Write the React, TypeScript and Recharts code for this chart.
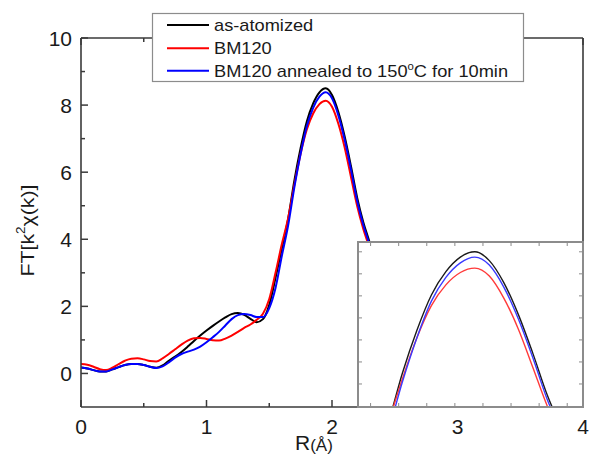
import React from 'react';
import { LineChart, Line, XAxis, YAxis } from 'recharts';

const FONT = '"Liberation Sans", Arial, Helvetica, sans-serif';
const AXIS = '#3a3a3a';

// R (Å)
const rValues = [
  0, 0.05, 0.1, 0.15, 0.2, 0.25, 0.3, 0.35, 0.4, 0.45, 0.5, 0.55, 0.6, 0.65, 0.7, 0.75, 0.8, 0.85, 0.9, 0.95,
  1.0, 1.05, 1.1, 1.15, 1.2, 1.25, 1.3, 1.35, 1.4, 1.45, 1.5, 1.55, 1.6, 1.65, 1.7, 1.75, 1.8, 1.85, 1.9, 1.95,
  2.0, 2.05, 2.1, 2.15, 2.2, 2.25, 2.3, 2.35, 2.4, 2.45, 2.5, 2.55, 2.6,
];

const asAtomized = [
  0.18, 0.15, 0.1, 0.06, 0.06, 0.12, 0.19, 0.25, 0.28, 0.28, 0.25, 0.2, 0.17, 0.24, 0.38, 0.5, 0.64, 0.8, 0.97, 1.13,
  1.28, 1.42, 1.55, 1.67, 1.77, 1.8, 1.75, 1.63, 1.53, 1.62, 2.05, 2.85, 3.72, 4.6, 5.75, 6.72, 7.52, 8.05, 8.38, 8.5,
  8.3, 7.8, 7.08, 6.2, 5.25, 4.5, 3.9, 3.15, 2.45, 1.95, 1.6, 1.35, 1.2,
];

const bm120 = [
  0.28, 0.26, 0.2, 0.13, 0.1, 0.17, 0.28, 0.38, 0.44, 0.45, 0.42, 0.37, 0.36, 0.45, 0.58, 0.72, 0.86, 0.98, 1.05, 1.06,
  1.03, 0.99, 0.98, 1.04, 1.13, 1.24, 1.36, 1.46, 1.6, 1.78, 2.22, 3.0, 3.85, 4.62, 5.62, 6.55, 7.28, 7.75, 8.03, 8.13,
  7.95, 7.45, 6.75, 5.88, 5.0, 4.3, 3.72, 2.95, 2.25, 1.78, 1.45, 1.22, 1.05,
];

const bm120Annealed = [
  0.18, 0.15, 0.1, 0.06, 0.06, 0.12, 0.19, 0.25, 0.28, 0.28, 0.25, 0.2, 0.16, 0.21, 0.33, 0.47, 0.58, 0.65, 0.71, 0.8,
  0.93, 1.08, 1.24, 1.43, 1.62, 1.74, 1.77, 1.74, 1.68, 1.68, 1.95, 2.55, 3.5, 4.4, 5.55, 6.55, 7.38, 7.92, 8.25, 8.38,
  8.2, 7.7, 6.98, 6.1, 5.15, 4.42, 3.82, 3.05, 2.35, 1.88, 1.52, 1.28, 1.12,
];

const seriesLabels = ['as-atomized', 'BM120', 'BM120 annealed to 150'];
const seriesColors = ['#000000', '#ff0000', '#0000ff'];

const mainXTicks = [0, 0.5, 1, 1.5, 2, 2.5, 3, 3.5, 4];
const mainYTicks = [0, 1, 2, 3, 4, 5, 6, 7, 8, 9, 10];
const insetXTicks = [1.59, 1.687, 1.784, 1.881, 1.978, 2.075, 2.172, 2.269];
const insetYTicks = [5.5, 6, 6.5, 7, 7.5, 8, 8.5];

const data = rValues.map((r, i) => ({
  r,
  asAtomized: asAtomized[i],
  bm120: bm120[i],
  annealed: bm120Annealed[i],
}));

const isMajor = (v: number) => Math.abs(v - Math.round(v)) < 1e-6;

function BottomTick(props: any) {
  const { x, y, payload } = props;
  const v = payload.value as number;
  const major = isMajor(v);
  return (
    <g>
      <line x1={x} x2={x} y1={y} y2={y - (major ? 7 : 4)} stroke={AXIS} strokeWidth={1.5} />
      {major ? (
        <text x={x} y={y + 26.5} textAnchor="middle" fontSize={21} fontFamily={FONT} fill="#1a1a1a">
          {v}
        </text>
      ) : null}
    </g>
  );
}

function TopTick(props: any) {
  const { x, y, payload } = props;
  const major = isMajor(payload.value as number);
  return <line x1={x} x2={x} y1={y} y2={y + (major ? 7 : 4)} stroke={AXIS} strokeWidth={1.5} />;
}

function LeftTick(props: any) {
  const { x, y, payload } = props;
  const v = payload.value as number;
  const major = v % 2 === 0;
  return (
    <g>
      <line x1={x} x2={x + (major ? 7 : 4)} y1={y} y2={y} stroke={AXIS} strokeWidth={1.5} />
      {major ? (
        <text x={x - 9} y={y + 7.5} textAnchor="end" fontSize={21} fontFamily={FONT} fill="#1a1a1a">
          {v}
        </text>
      ) : null}
    </g>
  );
}

const INSET_TICK = '#8a8a8a';
function InsetBottomTick(props: any) {
  const { x, y } = props;
  return <line x1={x} x2={x} y1={y} y2={y - 3} stroke={INSET_TICK} strokeWidth={1} />;
}
function InsetTopTick(props: any) {
  const { x, y } = props;
  return <line x1={x} x2={x} y1={y} y2={y + 3} stroke={INSET_TICK} strokeWidth={1} />;
}
function InsetLeftTick(props: any) {
  const { x, y } = props;
  return <line x1={x} x2={x + 3} y1={y} y2={y} stroke={INSET_TICK} strokeWidth={1} />;
}
function InsetRightTick(props: any) {
  const { x, y } = props;
  return <line x1={x} x2={x - 3} y1={y} y2={y} stroke={INSET_TICK} strokeWidth={1} />;
}

export default function App() {
  return (
    <div style={{ position: 'absolute', left: 0, top: 0, width: 589, height: 462, background: '#fff', overflow: 'hidden' }}>
      <div style={{ position: 'absolute', left: 0, top: 0 }}>
        <LineChart width={589} height={462} data={data} margin={{ top: 37, right: 5, bottom: 25, left: 0 }}>
          <XAxis
            xAxisId="b"
            dataKey="r"
            type="number"
            domain={[0, 4]}
            ticks={mainXTicks}
            interval={0}
            height={30}
            tickSize={0}
            tickMargin={0}
            tickLine={false}
            axisLine={{ stroke: AXIS, strokeWidth: 1.6 }}
            tick={<BottomTick />}
            allowDataOverflow
          />
          <XAxis
            xAxisId="t"
            orientation="top"
            dataKey="r"
            type="number"
            domain={[0, 4]}
            ticks={mainXTicks}
            interval={0}
            height={1}
            tickSize={0}
            tickMargin={0}
            tickLine={false}
            axisLine={{ stroke: AXIS, strokeWidth: 1.6 }}
            tick={<TopTick />}
            allowDataOverflow
          />
          <YAxis
            yAxisId="l"
            type="number"
            domain={[-1, 10]}
            ticks={mainYTicks}
            interval={0}
            width={81}
            tickSize={0}
            tickMargin={0}
            tickLine={false}
            axisLine={{ stroke: AXIS, strokeWidth: 1.6 }}
            tick={<LeftTick />}
            allowDataOverflow
          />
          <YAxis
            yAxisId="r"
            orientation="right"
            type="number"
            domain={[-1, 10]}
            width={1}
            tick={false}
            tickLine={false}
            axisLine={{ stroke: AXIS, strokeWidth: 1.6 }}
            allowDataOverflow
          />
          {/* invisible series that binds the frame axes (top / right) */}
          <Line xAxisId="t" yAxisId="r" type="monotone" dataKey="asAtomized" stroke="none" strokeWidth={0} dot={false} activeDot={false} isAnimationActive={false} legendType="none" />
          <Line xAxisId="b" yAxisId="l" type="monotone" dataKey="asAtomized" stroke={seriesColors[0]} strokeWidth={2} dot={false} activeDot={false} isAnimationActive={false} />
          <Line xAxisId="b" yAxisId="l" type="monotone" dataKey="bm120" stroke={seriesColors[1]} strokeWidth={2} dot={false} activeDot={false} isAnimationActive={false} />
          <Line xAxisId="b" yAxisId="l" type="monotone" dataKey="annealed" stroke={seriesColors[2]} strokeWidth={2} dot={false} activeDot={false} isAnimationActive={false} />
        </LineChart>
      </div>

      {/* inset */}
      <div
        style={{
          position: 'absolute',
          left: 357,
          top: 241,
          width: 227,
          height: 167,
          boxSizing: 'border-box',
          border: '2px solid #8c8c8c',
          background: '#fff',
          overflow: 'hidden',
        }}
      >
        <div style={{ position: 'absolute', left: -1, top: -1 }}>
          <LineChart width={225} height={165} data={data} margin={{ top: 0, right: 0, bottom: 0, left: 0 }}>
            <XAxis xAxisId="b" dataKey="r" type="number" domain={[1.55, 2.32]} ticks={insetXTicks} interval={0} height={1} tickSize={0} tickMargin={0} tickLine={false} axisLine={false} tick={<InsetBottomTick />} allowDataOverflow />
            <XAxis xAxisId="t" orientation="top" dataKey="r" type="number" domain={[1.55, 2.32]} ticks={insetXTicks} interval={0} height={1} tickSize={0} tickMargin={0} tickLine={false} axisLine={false} tick={<InsetTopTick />} allowDataOverflow />
            <YAxis yAxisId="l" type="number" domain={[5, 8.7]} ticks={insetYTicks} interval={0} width={1} tickSize={0} tickMargin={0} tickLine={false} axisLine={false} tick={<InsetLeftTick />} allowDataOverflow />
            <YAxis yAxisId="r" orientation="right" type="number" domain={[5, 8.7]} ticks={insetYTicks} interval={0} width={1} tickSize={0} tickMargin={0} tickLine={false} axisLine={false} tick={<InsetRightTick />} allowDataOverflow />
            <Line xAxisId="t" yAxisId="r" type="monotone" dataKey="asAtomized" stroke="none" strokeWidth={0} dot={false} activeDot={false} isAnimationActive={false} legendType="none" />
            <Line xAxisId="b" yAxisId="l" type="monotone" dataKey="asAtomized" stroke="#1a1a1a" strokeWidth={1.4} dot={false} activeDot={false} isAnimationActive={false} />
            <Line xAxisId="b" yAxisId="l" type="monotone" dataKey="bm120" stroke="#ff3a3a" strokeWidth={1.4} dot={false} activeDot={false} isAnimationActive={false} />
            <Line xAxisId="b" yAxisId="l" type="monotone" dataKey="annealed" stroke="#3a3aff" strokeWidth={1.4} dot={false} activeDot={false} isAnimationActive={false} />
          </LineChart>
        </div>
      </div>

      {/* legend and axis titles */}
      <svg width={589} height={462} style={{ position: 'absolute', left: 0, top: 0, pointerEvents: 'none' }}>
        <rect x={152.5} y={13.5} width={371} height={68} fill="#fff" stroke="#8c8c8c" strokeWidth={1.2} />
        {[25, 48.3, 70.7].map((ly, i) => (
          <line key={i} x1={167} x2={209} y1={ly} y2={ly} stroke={seriesColors[i]} strokeWidth={2} />
        ))}
        <g transform="translate(214,0) scale(1.14,1)" fontFamily={FONT} fontSize={16} fill="#1a1a1a">
          <text x={0} y={31.3}>{seriesLabels[0]}</text>
          <text x={0} y={54.5}>{seriesLabels[1]}</text>
          <text x={0} y={77}>
            {seriesLabels[2]}
            <tspan fontSize={10} dy={-7}>o</tspan>
            <tspan dy={7}>C for 10min</tspan>
          </text>
        </g>

        <text x={295} y={450} fontFamily={FONT} fontSize={21} fill="#1a1a1a">
          R<tspan fontSize={17} dy={1}>(Å)</tspan>
        </text>

        <g transform="translate(34,230.5) rotate(-90) scale(1.12,1)">
          <text x={0} y={0} textAnchor="middle" fontFamily={FONT} fontSize={19} fill="#1a1a1a">
            FT[k<tspan fontSize={12} dy={-9}>2</tspan>
            <tspan dy={9}>χ(k)]</tspan>
          </text>
        </g>
      </svg>
    </div>
  );
}
